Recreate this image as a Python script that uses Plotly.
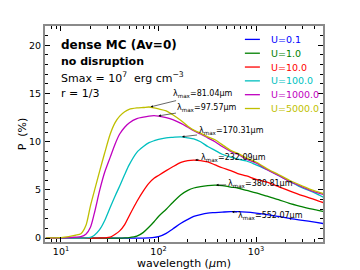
import numpy as np
import plotly.graph_objects as go

# ---------------- data ----------------
wavelength = [7, 10, 12, 14, 16, 18, 20, 22, 25, 28, 32, 36, 40, 45, 50, 60, 70, 80, 90, 100,
              120, 140, 170, 200, 230, 270, 320, 380, 450, 550, 650, 800, 1000, 1300, 1700,
              2200, 3000, 4000, 5000]

p_u0_1 = [0, 0, 0, 0, 0, 0, 0, 0, 0, 0, 0, 0, 0, 0, 0, 0, 0.01, 0.03, 0.07, 0.15,
          0.5, 0.95, 1.55, 1.95, 2.25, 2.45, 2.6, 2.65, 2.7, 2.75, 2.75, 2.7, 2.6, 2.45, 2.25,
          2.05, 1.85, 1.65, 1.5]
p_u1 = [0, 0, 0, 0, 0, 0, 0, 0, 0, 0, 0, 0, 0, 0.02, 0.05, 0.2, 0.6, 1.15, 1.7, 2.25,
        3.0, 3.7, 4.5, 4.95, 5.2, 5.35, 5.45, 5.5, 5.45, 5.3, 5.2, 4.95, 4.7, 4.35, 4.0,
        3.6, 3.25, 2.95, 2.75]
p_u10 = [0, 0, 0, 0, 0, 0, 0, 0, 0.02, 0.03, 0.1, 0.4, 0.75, 1.4, 2.3, 3.8, 4.9, 5.7, 6.2, 6.5,
         7.0, 7.4, 7.85, 8.05, 8.1, 8.05, 7.9, 7.6, 7.3, 7.0, 6.7, 6.45, 6.1, 5.8, 5.35,
         4.9, 4.4, 4.0, 3.65]
p_u100 = [0, 0, 0, 0, 0, 0.03, 0.08, 0.3, 0.9, 1.8, 3.2, 4.4, 5.4, 6.6, 7.6, 8.9, 9.5, 9.9, 10.1, 10.25,
          10.4, 10.45, 10.5, 10.4, 10.3, 10.0, 9.5, 9.1, 8.7, 8.4, 8.2, 8.0, 7.6, 7.1, 6.5,
          5.9, 5.2, 4.7, 4.2]
p_u1000 = [0, 0.02, 0.05, 0.1, 0.15, 0.4, 1.1, 2.6, 5.0, 6.8, 8.4, 9.8, 10.8, 11.5, 11.95, 12.4, 12.55, 12.65, 12.7, 12.65,
           12.5, 12.3, 11.9, 11.5, 11.15, 10.8, 10.4, 10.0, 9.5, 9.0, 8.7, 8.2, 7.8, 7.1, 6.5,
           5.9, 5.3, 4.8, 4.5]
p_u5000 = [0.02, 0.05, 0.15, 0.3, 0.45, 1.3, 3.3, 4.9, 7.0, 8.8, 10.8, 12.0, 12.65, 13.1, 13.35, 13.5, 13.55, 13.6, 13.5, 13.4,
           13.2, 12.8, 12.2, 11.6, 11.2, 10.9, 10.5, 10.2, 9.7, 9.1, 8.8, 8.3, 7.9, 7.2, 6.6,
           6.0, 5.4, 4.9, 4.6]

series_names = ["U=0.1", "U=1.0", "U=10.0", "U=100.0", "U=1000.0", "U=5000.0"]
series_values = [p_u0_1, p_u1, p_u10, p_u100, p_u1000, p_u5000]
lambda_max = [552.07, 380.81, 232.09, 170.31, 97.57, 81.04]

x_tick_vals = [10, 100, 1000]
x_tick_text = ["10<sup>1</sup>", "10<sup>2</sup>", "10<sup>3</sup>"]
y_tick_vals = [0, 5, 10, 15, 20]

# ---------------- styles ----------------
colors = ["#0000ff", "#008000", "#ff0000", "#00bfbf", "#bf00bf", "#bfbf00"]
FONT = "DejaVu Sans"
# label offsets (pixels) of each lambda_max label relative to its peak
label_offsets = [(40, 4), (45, -1), (39, -2), (50, -6), (50, -8), (53, -13)]
legend_rows_y = [0.938, 0.874, 0.810, 0.746, 0.682, 0.618]

fig = go.Figure()
for name, vals, col in zip(series_names, series_values, colors):
    fig.add_trace(go.Scatter(x=wavelength, y=vals, mode="lines", name=name,
                             line=dict(color=col, width=1.3, shape="spline", smoothing=0.8),
                             showlegend=False))

# lambda_max annotations
logw = np.log10(wavelength)
for lm, vals, (dx, dy) in zip(lambda_max, series_values, label_offsets):
    peak = float(np.interp(np.log10(lm), logw, vals))
    fig.add_annotation(x=np.log10(lm), y=peak, xref="x", yref="y",
                       text=f"λ<sub>max</sub>={lm:.2f}μm", showarrow=True,
                       ax=dx, ay=dy, arrowhead=2, arrowsize=0.8, arrowwidth=0.6,
                       arrowcolor="black", standoff=1,
                       font=dict(family=FONT, size=8, color="black"))

# manual legend
for name, col, yy in zip(series_names, colors, legend_rows_y):
    fig.add_shape(type="line", xref="paper", yref="paper", x0=0.719, x1=0.773, y0=yy, y1=yy,
                  line=dict(color=col, width=1.3))
    fig.add_annotation(x=0.805, y=yy, xref="paper", yref="paper", text=name, showarrow=False,
                       xanchor="left", yanchor="middle",
                       font=dict(family=FONT, size=9.5, color=col))

# top-left text block
info = [("<b>dense MC (Av=0)</b>", 12, 45),
        ("<b>no disruption</b>", 11, 61),
        ("Smax = 10<sup>7</sup>  erg cm<sup>−3</sup>", 11, 77),
        ("r = 1/3", 11, 93)]
for txt, sz, ypx in info:
    fig.add_annotation(x=(59 - 45) / 278, y=(242 - ypx) / 216, xref="paper", yref="paper",
                       text=txt, showarrow=False, xanchor="left", yanchor="middle",
                       font=dict(family=FONT, size=sz, color="black"))

axis_common = dict(showline=True, linecolor="#8a8a8a", linewidth=2, mirror="ticks",
                   ticks="inside", tickcolor="black", ticklen=5, tickwidth=1,
                   showgrid=False, zeroline=False, automargin=False,
                   tickfont=dict(family=FONT, size=9.5, color="black"))

minor_x = [8, 9] + [m * d for d in (10, 100) for m in range(2, 10)] + [2000, 3000, 4000]

fig.update_xaxes(type="log", range=[0.836, 3.687], tickvals=x_tick_vals, ticktext=x_tick_text,
                 minor=dict(tickvals=minor_x, ticks="inside", ticklen=3, tickcolor="black"),
                 title=dict(text="wavelength (<i>μ</i>m)", font=dict(family=FONT, size=11), standoff=0),
                 **axis_common)
fig.update_yaxes(range=[-0.4, 22], tickvals=y_tick_vals,
                 minor=dict(dtick=1, ticks="inside", ticklen=3, tickcolor="black"),
                 title=dict(text="P  (%)", font=dict(family=FONT, size=11), standoff=0),
                 **axis_common)

# the page body adds an 8px offset, so the figure is 352x262 to fill the 360x270 window
fig.update_layout(width=352, height=262, margin=dict(l=37, r=37, t=18, b=28),
                  paper_bgcolor="white", plot_bgcolor="white",
                  font=dict(family=FONT, color="black"), showlegend=False)

fig.write_html("out.html")
